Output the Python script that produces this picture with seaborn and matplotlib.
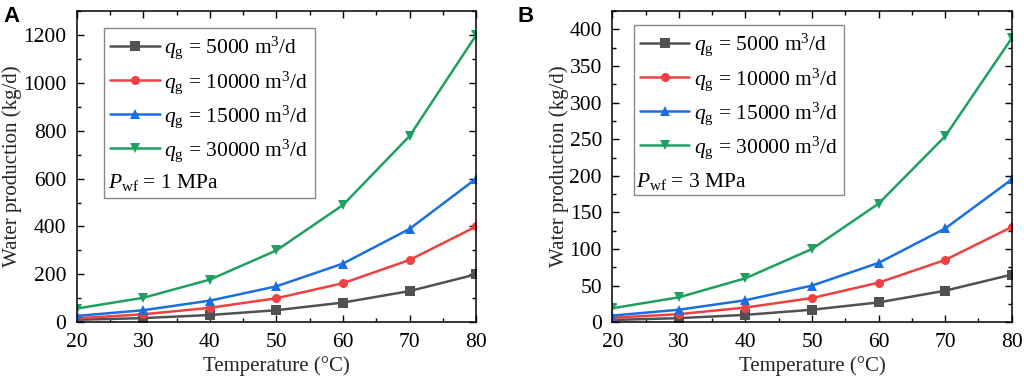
import numpy as np
import pandas as pd
import seaborn as sns
from matplotlib import pyplot as plt
from matplotlib.ticker import MultipleLocator

temperature = [20, 30, 40, 50, 60, 70, 80]
rates = ["5000", "10000", "15000", "30000"]

# water production (kg/d), Pwf = 1 MPa
prod_1mpa = {
    "5000": [10, 17, 30, 50, 82, 130, 200],
    "10000": [16, 33, 60, 100, 163, 260, 400],
    "15000": [26, 50, 90, 150, 245, 390, 600],
    "30000": [57, 102, 178, 300, 490, 778, 1200],
}
# water production (kg/d), Pwf = 3 MPa
prod_3mpa = {
    "5000": [3, 5.5, 10, 17, 27, 43, 65],
    "10000": [6, 11, 20, 33, 54, 85, 130],
    "15000": [9, 17, 30, 50, 81, 128, 195],
    "30000": [19, 34, 60, 100, 162, 254, 388],
}

colors = ["#515151", "#F14040", "#1A6FDF", "#1FA060"]
markers = ["s", "o", "^", "v"]

sns.set_theme(style="ticks")
plt.rcParams["font.family"] = ["Liberation Serif", "DejaVu Serif"]
plt.rcParams["mathtext.fontset"] = "custom"
plt.rcParams["mathtext.rm"] = "Liberation Serif"
plt.rcParams["mathtext.it"] = "Liberation Serif:italic"
plt.rcParams["text.color"] = "black"


def to_long(prod):
    rows = []
    for r in rates:
        for t, v in zip(temperature, prod[r]):
            rows.append({"T": t, "W": v, "rate": r})
    return pd.DataFrame(rows)


def draw_panel(ax, prod, ymax, ymajor, pwf, leg_anchor, pwf_pos):
    df = to_long(prod)
    sns.lineplot(data=df, x="T", y="W", hue="rate", style="rate",
                 palette=colors, markers=markers, dashes=False,
                 linewidth=1.8, markersize=6.5, markeredgewidth=0,
                 legend=False, ax=ax)
    ax.set_xlim(20, 80)
    ax.set_ylim(0, ymax)
    ax.xaxis.set_major_locator(MultipleLocator(10))
    ax.xaxis.set_minor_locator(MultipleLocator(5))
    ax.yaxis.set_major_locator(MultipleLocator(ymajor))
    ax.yaxis.set_minor_locator(MultipleLocator(ymajor / 2))
    ax.tick_params(which="both", direction="in", top=True, right=True,
                   labelsize=15.5, colors="black")
    ax.tick_params(which="major", length=5, width=1, pad=7.5)
    ax.tick_params(which="minor", length=3, width=1)
    for s in ax.spines.values():
        s.set_linewidth(1.1)
        s.set_color("black")
    ax.set_xlabel("Temperature (\u00b0C)", fontsize=15, labelpad=3)
    ax.set_ylabel("Water production (kg/d)", fontsize=15, labelpad=0.5)

    handles = [plt.Line2D([], [], color=c, marker=m, markersize=6.5,
                          markeredgewidth=0, linewidth=1.8)
               for c, m in zip(colors, markers)]
    labels = [r"$q_\mathrm{g}$ = " + r + r" m$^3$/d" for r in rates]
    handles.append(plt.Line2D([], [], color="none"))
    labels.append(" ")
    leg = ax.legend(handles, labels, loc="upper left",
                    bbox_to_anchor=leg_anchor, borderaxespad=0,
                    fontsize=15.5, frameon=True, fancybox=False,
                    framealpha=1, handlelength=2.3, handletextpad=0.2,
                    labelspacing=0.35, borderpad=0.3)
    leg.get_frame().set_edgecolor("#888888")
    leg.get_frame().set_linewidth(1.0)
    ax.text(pwf_pos[0], pwf_pos[1], r"$P_\mathrm{wf}$ = " + pwf + " MPa",
            transform=ax.transAxes, fontsize=15.5, ha="left", va="baseline",
            color="black", zorder=10)


fig = plt.figure(figsize=(10.24, 3.84), dpi=100)
ax1 = fig.add_axes([0.075, 0.161, 0.390, 0.810])
ax2 = fig.add_axes([0.598, 0.161, 0.390, 0.810])

draw_panel(ax1, prod_1mpa, 1300, 200, "1", (0.068, 0.945), (0.078, 0.43))
draw_panel(ax2, prod_3mpa, 425, 50, "3", (0.053, 0.955), (0.058, 0.434))

fig.text(0.003, 0.985, "A", fontsize=16, fontweight="bold",
         family="Liberation Sans", va="top")
fig.text(0.505, 0.985, "B", fontsize=16, fontweight="bold",
         family="Liberation Sans", va="top")

fig.savefig("out.png", dpi=100)
